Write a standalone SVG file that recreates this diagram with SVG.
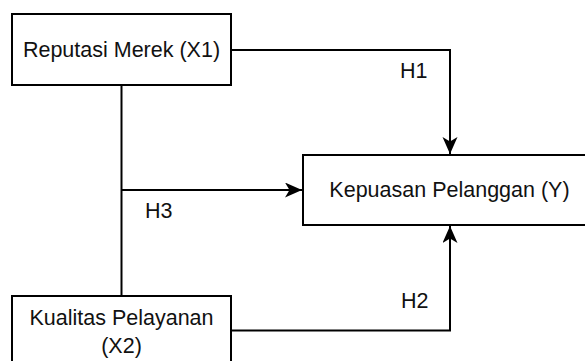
<svg xmlns="http://www.w3.org/2000/svg" width="585" height="361" viewBox="0 0 585 361">
  <defs>
    <style>
      .box { fill: #ffffff; stroke: #000000; stroke-width: 2; }
      .conn { fill: none; stroke: #000000; stroke-width: 2; }
      .lbl { font-family: "Liberation Sans", Arial, sans-serif; font-size: 21.5px; fill: #111111; }
      .mid { text-anchor: middle; }
    </style>
    <marker id="arrow" markerUnits="userSpaceOnUse" markerWidth="18" markerHeight="16" refX="17" refY="7.5" orient="auto">
      <path d="M0,0 L17,7.5 L0,15 L4.5,7.5 Z" fill="#000000"/>
    </marker>
  </defs>
  <rect width="585" height="361" fill="#ffffff"/>

  <g id="connectors">
    <path class="conn" d="M231,50 H450 V154" marker-end="url(#arrow)"/>
    <path class="conn" d="M231,330.5 H450 V226" marker-end="url(#arrow)"/>
    <path class="conn" d="M121.5,85 V296"/>
    <path class="conn" d="M121.5,190 H302" marker-end="url(#arrow)"/>
    <text class="lbl" x="400" y="78">H1</text>
    <text class="lbl" x="145" y="218">H3</text>
    <text class="lbl" x="401" y="308">H2</text>
  </g>

  <g id="node-x1">
    <rect class="box" x="12" y="14" width="219" height="71"/>
    <text class="lbl mid" x="121.5" y="57">Reputasi Merek (X1)</text>
  </g>

  <g id="node-y">
    <rect class="box" x="303" y="155" width="295" height="70"/>
    <text class="lbl mid" x="449.5" y="197">Kepuasan Pelanggan (Y)</text>
  </g>

  <g id="node-x2">
    <rect class="box" x="12" y="296" width="219" height="80"/>
    <text class="lbl mid" x="121.5" y="325">Kualitas Pelayanan</text>
    <text class="lbl mid" x="121.5" y="353">(X2)</text>
  </g>
</svg>
